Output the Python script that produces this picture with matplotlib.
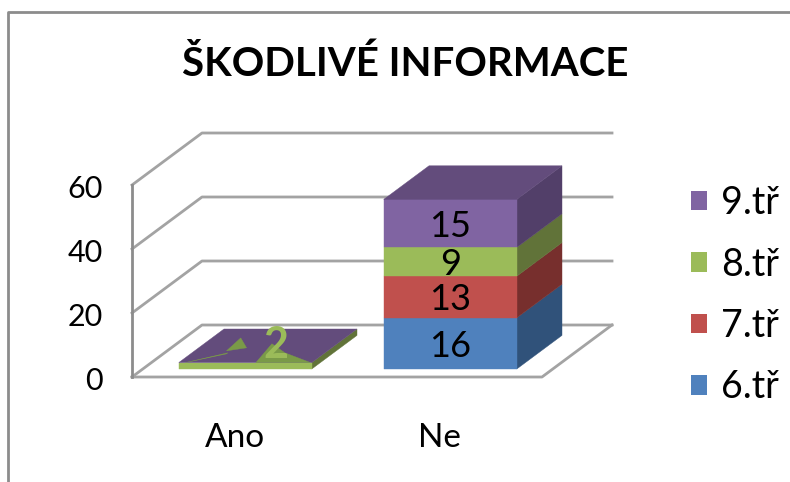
import matplotlib
matplotlib.use('Agg')
import matplotlib.pyplot as plt
from matplotlib.patches import Polygon, Patch
from matplotlib.transforms import ScaledTranslation

plt.rcParams['font.family'] = ['Lato', 'DejaVu Sans']

categories = ['Ano', 'Ne']
series = ['6.tř', '7.tř', '8.tř', '9.tř']
values = {
    '6.tř': [0, 16],
    '7.tř': [0, 13],
    '8.tř': [2, 9],
    '9.tř': [0, 15],
}
yticks = [0, 20, 40, 60]
front = ['#4F81BD', '#C0504D', '#9BBB59', '#8064A2']
side = ['#30527A', '#772F2D', '#617339', '#523F69']
top = ['#3A6292', '#8E3B38', '#76903F', '#634C7C']

W, H = 790, 482
GRID = '#A3A3A3'
# one unit of depth in data units (oblique projection of the 3D box)
DX, DV = 70 / 205, 52 / 3.2
BW = 133 / 205
D0, D1 = 0.154, 0.80

fig = plt.figure(figsize=(W / 100, H / 100), dpi=100)
ax = fig.add_axes([132 / W, 1 - 377 / H, 410 / W, 192 / H])
ax.set_xlim(-0.5, 1.5)
ax.set_ylim(0, 60)
for s in ax.spines.values():
    s.set_visible(False)


def pt(x, v, d=0):
    return (x + d * DX, v + d * DV)


def face(pts, color, z=3):
    ax.add_patch(Polygon(pts, closed=True, fc=color, ec=color, lw=0.3, zorder=z, clip_on=False))


# walls and floor
for v in yticks:
    xs, ys = zip(pt(-0.5, v), pt(-0.5, v, 1), pt(1.5, v, 1))
    ax.plot(xs, ys, color=GRID, lw=2, clip_on=False, zorder=1)
xs, ys = zip(pt(-0.5, 0), pt(1.5, 0), pt(1.5, 0, 1))
ax.plot(xs, ys, color=GRID, lw=2, clip_on=False, zorder=1)
ax.plot([-0.5, -0.5], [0, 60], color='#8C8C8C', lw=2, clip_on=False, zorder=1)

# stacked boxes
for i, cat in enumerate(categories):
    x0, x1 = i - BW / 2, i + BW / 2
    base = 0
    for j, name in enumerate(series):
        v = values[name][i]
        if v > 0:
            face([pt(x0, base, D0), pt(x1, base, D0), pt(x1, base + v, D0), pt(x0, base + v, D0)], front[j], 4)
            face([pt(x1, base, D0), pt(x1, base, D1), pt(x1, base + v, D1), pt(x1, base + v, D0)], side[j], 3)
            cx, cy = pt(i, base + v / 2, D0)
            if i == 1:
                ax.annotate(str(v), (cx, cy), xytext=(0, -2), textcoords='offset points', ha='center',
                            va='center', fontsize=26, color='black', zorder=6)
        base += v
    # top of the stack belongs to the last series
    face([pt(x0, base, D0), pt(x1, base, D0), pt(x1, base, D1), pt(x0, base, D1)], top[-1], 5)

# z-fighting shards on the flat Ano box: (share of width, share of depth)
shards = [
    [(0.24, 0.35), (0.216, 0.735), (0.36, 0.44)],
    [(0.58, 0.0), (0.51, 0.56), (0.70, 0.29), (0.99, 0.0)],
    [(0.05, 0.0), (0.27, 0.26), (0.27, 0.29)],
]
for shard in shards:
    face([pt(-BW / 2 + u * BW, values['8.tř'][0], D0 + t * (D1 - D0)) for u, t in shard], '#7A9A48', 6)

# the Ano label sits on the top face, in its series colour
lx, ly = pt(0, values['8.tř'][0], 0.5)
ax.annotate(str(values['8.tř'][0]), (lx, ly), xytext=(4.5, 0), textcoords='offset points', ha='center',
            va='center', fontsize=31, fontweight='bold', color=front[2], zorder=7)

ax.set_xticks(range(len(categories)))
ax.set_xticklabels(categories, fontsize=24)
ax.set_yticks(yticks)
ax.set_yticklabels([str(v) for v in yticks], fontsize=22)
ax.tick_params(axis='x', length=0, pad=33)
ax.tick_params(axis='y', length=0, pad=21)
for lab in ax.get_yticklabels():
    lab.set_transform(lab.get_transform() + ScaledTranslation(0, -1 / 72, fig.dpi_scale_trans))

handles = [Patch(fc=front[j], ec='none', label=series[j]) for j in range(3, -1, -1)]
leg = fig.legend(handles=handles, loc='upper left', bbox_to_anchor=(691 / W, 1 - 185 / H), frameon=False,
                 fontsize=27, handlelength=0.43, handleheight=0.43, handletextpad=0.37,
                 labelspacing=0.68, borderpad=0, borderaxespad=0)

fig.text(405 / W, 1 - 64 / H, 'ŠKODLIVÉ INFORMACE', ha='center', va='center', fontsize=29, fontweight='bold')

# chart frame, cut off at the right and the bottom
fig.add_artist(plt.Line2D([8 / W, 8 / W, 1], [0, 1 - 12 / H, 1 - 12 / H], color='#8C8C8C', lw=2))

fig.savefig('out.png', dpi=100)
